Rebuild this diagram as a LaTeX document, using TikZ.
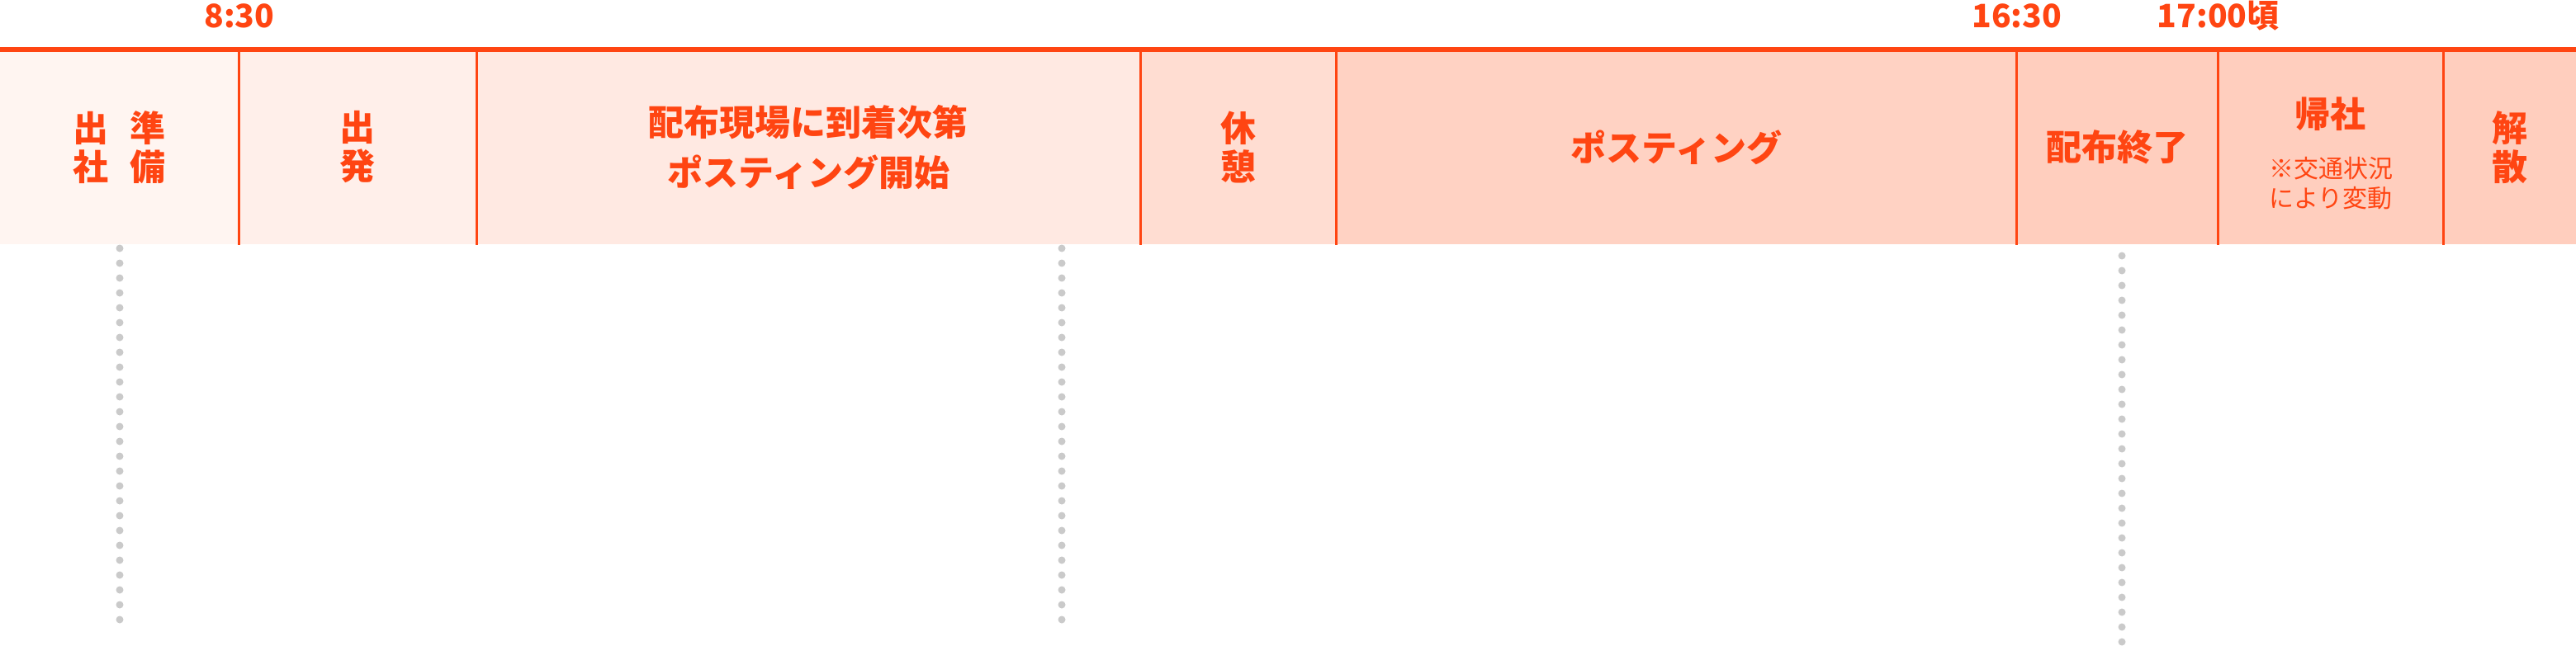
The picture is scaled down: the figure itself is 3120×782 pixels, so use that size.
\documentclass[tikz,border=0pt]{standalone}
\usepackage{fontspec}
\setmainfont{Noto Sans CJK JP}
\usepackage{xcolor}
\usetikzlibrary{positioning}
\definecolor{flame}{HTML}{FF4512}
\definecolor{dotgrey}{HTML}{CACACA}
\definecolor{tintA}{HTML}{FFF5F1}
\definecolor{tintB}{HTML}{FFEFEA}
\definecolor{tintC}{HTML}{FFE9E2}
\definecolor{tintD}{HTML}{FFDDD2}
\definecolor{tintE}{HTML}{FFD2C3}
\definecolor{tintF}{HTML}{FFCEBE}

\begin{document}
\begin{tikzpicture}[x=0.5pt,y=-0.5pt,
  slot/.style={anchor=north west,inner sep=0pt,minimum height=118pt,text=flame,align=center,
    font=\bfseries\fontsize{21.5pt}{23.5pt}\selectfont},
  title/.style={inner sep=0pt,text=flame,font=\bfseries\fontsize{21.5pt}{23.5pt}\selectfont},
  note/.style={inner sep=0pt,text=flame,align=center,font=\fontsize{15pt}{18pt}\selectfont},
  stamp/.style={anchor=base,inner sep=0pt,text=flame,font=\bfseries\fontsize{19.5pt}{22pt}\selectfont},
  rule/.style={draw=flame,line width=3pt},
  divider/.style={draw=flame,line width=1.4pt},
  dotline/.style={draw=dotgrey,line width=4.5pt,line cap=round,dash pattern=on 0pt off 9pt}]
  \useasboundingbox (0,0) rectangle (3120,782);

  % time slots
  \node[slot,fill=tintA,minimum width=144.5pt] (prep) at (0,60) {出\hspace{13pt}準\\社\hspace{13pt}備};
  \node[slot,fill=tintB,minimum width=144pt] (depart) at (289,60) {出\\発};
  \node[slot,fill=tintC,minimum width=402pt] (arrive) at (577,60) {配布現場に到着次第\\[7pt]ポスティング開始};
  \node[slot,fill=tintD,minimum width=118.5pt] (rest) at (1381,60) {休\\憩};
  \node[slot,fill=tintE,minimum width=412pt] (posting) at (1618,60) {ポスティング};
  \node[slot,fill=tintF,minimum width=122pt] (finish) at (2442,60) {配布終了};
  \node[slot,fill=tintF,minimum width=136.5pt] (ret) at (2686,60) {};
  \node[slot,fill=tintF,minimum width=80.5pt] (dismiss) at (2959,60) {解\\散};
  \node[title] (rettitle) at (2822,138) {帰社};
  \node[note] (retnote) at (2823,222) {※交通状況\\により変動};

  \foreach \a in {prep,depart,arrive,rest,posting,finish,ret}
    \draw[divider] (\a.north east) -- (\a.south east);
  \draw[rule] (prep.north west) -- (dismiss.north east);

  % clock times
  \node[stamp] (t830) at ([yshift=13.5pt]prep.north east) {8:30};
  \node[stamp] (t1630) at ([yshift=13.5pt]posting.north east) {16:30};
  \node[stamp] (t1700) at ([yshift=13.5pt]finish.north east) {17:00頃};

  % guide dots
  \coordinate (g1) at (145,301);
  \coordinate (g1end) at (145,751);
  \coordinate (g2) at (1286,301);
  \coordinate (g2end) at (1286,751);
  \coordinate (g3) at (2570,310);
  \coordinate (g3end) at (2570,779);
  \draw[dotline] (g1) -- (g1end);
  \draw[dotline] (g2) -- (g2end);
  \draw[dotline] (g3) -- (g3end);
\end{tikzpicture}
\end{document}
